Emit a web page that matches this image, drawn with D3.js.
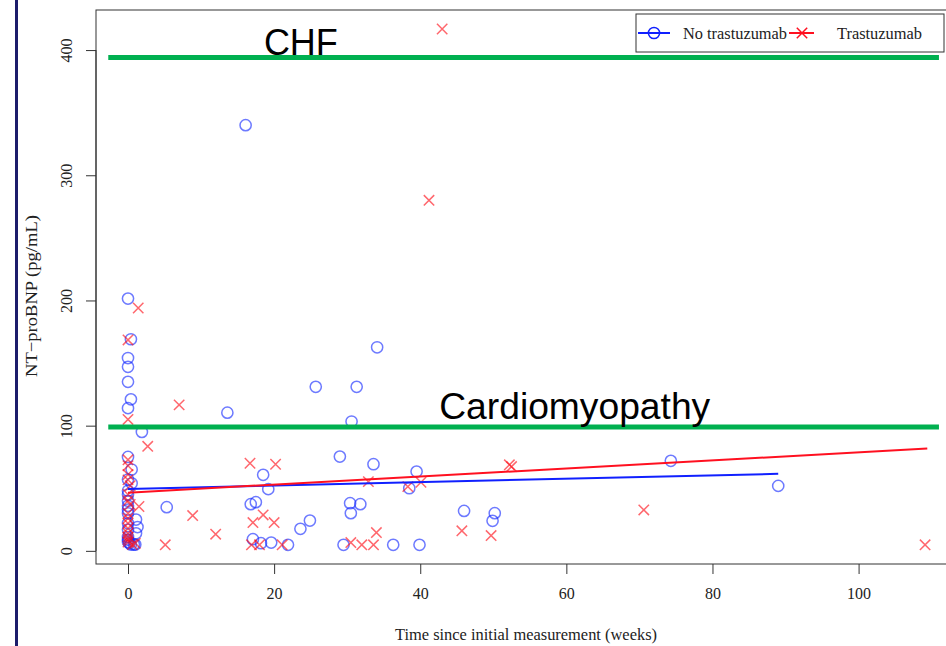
<!DOCTYPE html>
<html><head><meta charset="utf-8">
<script src="https://cdn.jsdelivr.net/npm/d3@7"></script>
<style>body{margin:0;background:#fff}svg{display:block}</style>
</head><body>
<svg id="c" width="946" height="646"></svg>
<script>
// ---- data ----
const xTicks = [0, 20, 40, 60, 80, 100];
const yTicks = [0, 100, 200, 300, 400];
const xTitle = "Time since initial measurement (weeks)";
const yTitle = "NT\u2212proBNP (pg/mL)";
const seriesNames = ["No trastuzumab", "Trastuzumab"];

// No trastuzumab (weeks, pg/mL)
const noTrasX = [0,0.4,0,0,0,0.4,0,1.9,0,0.5,0,0.5,0,0,0,0,0,0,1.1,0,1.3,0,1.1,0,0,0,0.8,0.4,1.0,0.2,
  16.1,34.1,25.7,31.3,13.6,30.6,29.0,33.6,39.5,38.5,18.5,19.2,5.3,16.8,17.5,30.4,31.8,30.5,46.0,50.2,49.9,
  23.6,24.9,17.1,18.2,19.6,21.9,29.5,36.3,39.9,74.3,89.0];
const noTrasY = [201.5,169,154,147,135,121,114,95,75,65,57,54,48,45,40,36,33,30,25,22,19,17,14,11,9,7,5,5,5,6,
  340,162.6,131,131,110.4,103.3,75.3,69.2,63.3,50,60.7,49.3,34.9,37.3,38.9,38.1,37.3,30.1,31.9,30.1,24,
  17.6,24.2,9.3,6.1,6.6,4.8,4.8,4.8,4.8,71.9,51.9];

// Trastuzumab (weeks, pg/mL)
const trasX = [0,0,0,0,0,0,0.3,0,1.5,0,0,0,0,0,0,0,0,0,0.6,1.0,1.4,0.3,
  43.0,41.2,7.0,2.7,16.7,20.2,8.85,12.0,5.1,17.1,18.5,20.0,16.9,18.0,21.1,32.9,38.3,40.1,
  34.0,30.5,32.0,33.6,45.7,49.7,52.2,52.5,70.6,109.1];
const trasY = [168.5,105,72.7,68,61,56.7,52,45,35.4,40,30,26,22,18,14,11,9,7,5,6,194,37,
  416.8,280,116.6,83.5,70,69.2,28.2,13.3,4.8,22.6,28.7,22.6,4.8,4.8,4.8,55.3,51.3,54.8,
  14.6,6.6,4.8,4.8,16,12.2,68.7,67.3,32.7,4.8];

// fitted trend lines: [x0, y0, x1, y1]
const fitNoTras = [0, 49.5, 89.0, 61.5];
const fitTras = [0, 46.5, 109.4, 81.7];

// threshold lines
const thresholdNames = ["CHF", "Cardiomyopathy"];
const thresholdValues = [394, 99];
const thresholdLabelX = [18.6, 42.6];
const thresholdSpan = [-2.7, 111];

// ---- chart ----
const svg = d3.select("#c");
const serif = "'Liberation Serif','Times New Roman',serif";
const sans = "'Liberation Sans',Arial,sans-serif";

const x = d3.scaleLinear().domain([-4.38, 113.88]).range([96, 960]);
const y = d3.scaleLinear().domain([-10.5, 432]).range([564, 10]);

// left decorative bar
svg.append("rect").attr("x", 15).attr("y", 0).attr("width", 3).attr("height", 646).attr("fill", "#1c1c6b");

// plot box
svg.append("rect").attr("x", x.range()[0]).attr("y", 10)
  .attr("width", x.range()[1] - x.range()[0]).attr("height", 554)
  .attr("fill", "none").attr("stroke", "#333").attr("stroke-width", 1);

// axes
const yAxis = d3.axisLeft(y).tickValues(yTicks).tickSize(10).tickPadding(6).tickFormat(d3.format("d"));
const gy = svg.append("g").attr("transform", `translate(${x.range()[0]},0)`).call(yAxis);
gy.select(".domain").remove();
gy.selectAll(".tick line").attr("stroke", "#333");
gy.selectAll(".tick text").attr("font-family", serif).attr("font-size", 16).attr("fill", "#222")
  .attr("text-anchor", "middle").attr("x", null).attr("y", null).attr("dy", "0em")
  .attr("transform", "translate(-24,0) rotate(-90)");
svg.append("line").attr("x1", x.range()[0]).attr("x2", x.range()[0]).attr("y1", y(0)).attr("y2", y(400)).attr("stroke", "#333");

const xAxis = d3.axisBottom(x).tickValues(xTicks).tickSize(10).tickPadding(14).tickFormat(d3.format("d"));
const gx = svg.append("g").attr("transform", `translate(0,564)`).call(xAxis);
gx.select(".domain").remove();
gx.selectAll(".tick line").attr("stroke", "#333");
gx.selectAll(".tick text").attr("font-family", serif).attr("font-size", 16).attr("fill", "#222");

// axis titles
svg.append("text").attr("x", 526).attr("y", 640).attr("text-anchor", "middle")
  .attr("font-family", serif).attr("font-size", 17).attr("fill", "#222")
  .attr("textLength", 262).attr("lengthAdjust", "spacingAndGlyphs").text(xTitle);
svg.append("text").attr("transform", "translate(37,296) rotate(-90)").attr("text-anchor", "middle")
  .attr("font-family", serif).attr("font-size", 17).attr("fill", "#222")
  .attr("textLength", 162).attr("lengthAdjust", "spacingAndGlyphs").text(yTitle);

// points
const blue = "rgba(20,40,255,0.62)";
const red = "rgba(255,10,20,0.62)";
const gp = svg.append("g");
gp.selectAll("circle").data(noTrasX.map((d, i) => [d, noTrasY[i]])).join("circle")
  .attr("cx", d => x(d[0])).attr("cy", d => y(d[1])).attr("r", 5.6)
  .attr("fill", "none").attr("stroke", blue).attr("stroke-width", 1.5);
const s = 5.2;
gp.selectAll("path.x").data(trasX.map((d, i) => [d, trasY[i]])).join("path").attr("class", "x")
  .attr("d", d => { const cx = x(d[0]), cy = y(d[1]);
    return `M${cx - s},${cy - s}L${cx + s},${cy + s}M${cx - s},${cy + s}L${cx + s},${cy - s}`; })
  .attr("stroke", red).attr("stroke-width", 1.5).attr("fill", "none");

// fit lines
svg.append("line").attr("x1", x(fitNoTras[0])).attr("y1", y(fitNoTras[1]))
  .attr("x2", x(fitNoTras[2])).attr("y2", y(fitNoTras[3])).attr("stroke", "#1020ff").attr("stroke-width", 2);
svg.append("line").attr("x1", x(fitTras[0])).attr("y1", y(fitTras[1]))
  .attr("x2", x(fitTras[2])).attr("y2", y(fitTras[3])).attr("stroke", "#ff1020").attr("stroke-width", 2);

// threshold lines and labels
const labelLen = [74, 271];
const labelOff = [3, 8];
thresholdValues.forEach((v, i) => {
  svg.append("line").attr("x1", x(thresholdSpan[0])).attr("x2", x(thresholdSpan[1]))
    .attr("y1", y(v)).attr("y2", y(v)).attr("stroke", "#00b050").attr("stroke-width", 5);
  svg.append("text").attr("x", x(thresholdLabelX[i])).attr("y", y(v) - labelOff[i])
    .attr("font-family", sans).attr("font-size", 36).attr("fill", "#000")
    .attr("textLength", labelLen[i]).attr("lengthAdjust", "spacingAndGlyphs").text(thresholdNames[i]);
});

// legend
const lg = svg.append("g");
lg.append("rect").attr("x", 636).attr("y", 14).attr("width", 308).attr("height", 38)
  .attr("fill", "#fff").attr("stroke", "#333").attr("stroke-width", 1);
lg.append("line").attr("x1", 638).attr("x2", 670).attr("y1", 33).attr("y2", 33).attr("stroke", "#1020ff").attr("stroke-width", 2);
lg.append("circle").attr("cx", 654).attr("cy", 33).attr("r", 5.6).attr("fill", "none").attr("stroke", "#1020ff").attr("stroke-width", 1.5);
lg.append("text").attr("x", 683).attr("y", 38.5).attr("font-family", serif).attr("font-size", 16.5).attr("fill", "#222")
  .attr("textLength", 104).attr("lengthAdjust", "spacingAndGlyphs").text(seriesNames[0]);
lg.append("line").attr("x1", 789).attr("x2", 814).attr("y1", 33).attr("y2", 33).attr("stroke", "#ff1020").attr("stroke-width", 2);
lg.append("path").attr("d", `M${802 - s},${33 - s}L${802 + s},${33 + s}M${802 - s},${33 + s}L${802 + s},${33 - s}`)
  .attr("stroke", "#ff1020").attr("stroke-width", 1.5);
lg.append("text").attr("x", 837).attr("y", 38.5).attr("font-family", serif).attr("font-size", 16.5).attr("fill", "#222")
  .attr("textLength", 85).attr("lengthAdjust", "spacingAndGlyphs").text(seriesNames[1]);
</script>
</body></html>
